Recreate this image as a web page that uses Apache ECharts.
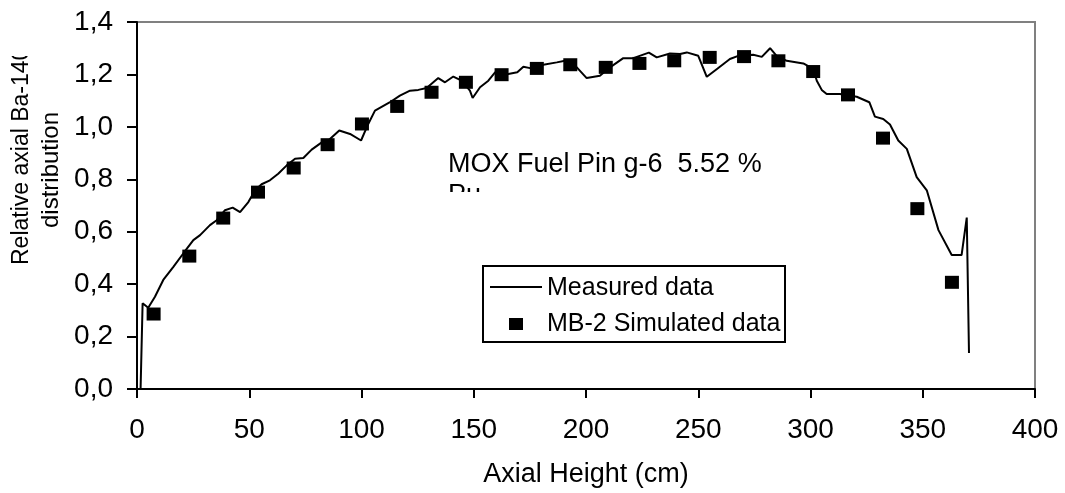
<!DOCTYPE html>
<html>
<head>
<meta charset="utf-8">
<script src="https://cdn.jsdelivr.net/npm/echarts@6/dist/echarts.min.js"></script>
<style>
html,body{margin:0;padding:0;background:#fff;}
#chart{width:1065px;height:493px;}
</style>
</head>
<body>
<div id="chart"></div>
<script>
// Measured data (axial height cm, relative Ba-140)
const measuredX = [
  1.6, 2.5, 5.0, 8.0, 11.7, 16.2, 20.6, 25.1, 28.1, 32.5,
  35.5, 39.2, 42.6, 45.9, 49.6, 52.6, 55.5, 59.2, 62.9, 66.7,
  70.4, 74.1, 77.8, 82.3, 85.2, 90.1, 94.9, 99.8, 103.0, 106.0,
  112.7, 117.1, 121.6, 125.3, 129.0, 134.2, 137.2, 140.9, 144.6, 148.3,
  149.5, 152.8, 156.5, 159.5, 165.4, 169.4, 172.1, 175.1, 181.0, 187.0,
  190.6, 195.9, 200.3, 206.2, 210.7, 216.6, 221.1, 228.0, 231.5, 237.4,
  241.9, 244.9, 250.0, 253.8, 258.2, 264.1, 267.8, 274.5, 278.3, 282.0,
  284.9, 289.4, 296.8, 301.2, 302.8, 305.0, 307.2, 313.1, 320.6, 326.2,
  328.7, 332.4, 335.4, 339.1, 342.9, 347.3, 351.8, 357.0, 362.9, 367.3,
  369.6, 370.6
];
const measuredY = [
  0.0, 0.327, 0.310, 0.352, 0.416, 0.466, 0.517, 0.568, 0.587, 0.625,
  0.644, 0.682, 0.692, 0.675, 0.713, 0.758, 0.781, 0.796, 0.821, 0.853,
  0.878, 0.881, 0.913, 0.941, 0.948, 0.986, 0.973, 0.948, 1.011, 1.062,
  1.094, 1.119, 1.138, 1.141, 1.148, 1.186, 1.170, 1.192, 1.176, 1.138,
  1.110, 1.151, 1.176, 1.208, 1.202, 1.208, 1.229, 1.224, 1.237, 1.246,
  1.252, 1.227, 1.186, 1.195, 1.227, 1.262, 1.262, 1.283, 1.265, 1.280,
  1.278, 1.284, 1.271, 1.191, 1.220, 1.259, 1.271, 1.275, 1.267, 1.300,
  1.271, 1.252, 1.242, 1.221, 1.176, 1.141, 1.125, 1.125, 1.115, 1.094,
  1.039, 1.030, 1.009, 0.948, 0.916, 0.808, 0.758, 0.606, 0.511, 0.511,
  0.654, 0.137
];
// MB-2 simulated data
const simX = [7.4, 23.3, 38.4, 53.9, 69.8, 84.9, 100.2, 115.9, 131.2, 146.5, 162.4, 178.1,
              193.0, 208.8, 223.8, 239.3, 255.1, 270.4, 285.7, 301.2, 316.7, 332.3, 347.6, 363.0];
const simY = [0.286, 0.507, 0.652, 0.751, 0.843, 0.932, 1.011, 1.078, 1.132, 1.170, 1.199, 1.223,
              1.237, 1.227, 1.242, 1.252, 1.265, 1.268, 1.252, 1.211, 1.122, 0.957, 0.688, 0.407];
// Tick labels
const yTickValues = [0, 0.2, 0.4, 0.6, 0.8, 1.0, 1.2, 1.4];
const yTickLabels = ['0,0', '0,2', '0,4', '0,6', '0,8', '1,0', '1,2', '1,4'];
const xTickLabels = ['0', '50', '100', '150', '200', '250', '300', '350', '400'];

const seriesNames = ['Measured data', 'MB-2 Simulated data'];
const xAxisName = 'Axial Height (cm)';
const yAxisNameLines = ['Relative axial Ba-140', 'distribution'];
const annotationLines = ['MOX Fuel Pin g-6  5.52 %', 'Pu'];

const FONT = 'Liberation Sans, Arial, sans-serif';

const chart = echarts.init(document.getElementById('chart'), null, {renderer: 'canvas'});

const measured = measuredX.map((x, i) => [x, measuredY[i]]);
const simulated = simX.map((x, i) => [x, simY[i]]);

const option = {
  backgroundColor: '#ffffff',
  animation: false,
  grid: {
    left: 137, right: 30, top: 22, bottom: 104,
    show: true, borderColor: '#808080', borderWidth: 2, backgroundColor: 'transparent'
  },
  xAxis: {
    type: 'value', min: 0, max: 400, interval: 50,
    name: xAxisName, nameLocation: 'middle', nameGap: 72,
    nameTextStyle: {fontFamily: FONT, fontSize: 27, color: '#000'},
    axisLine: {show: true, onZero: false, lineStyle: {color: '#000', width: 2}},
    axisTick: {show: true, inside: false, length: 9, lineStyle: {color: '#000', width: 2}},
    axisLabel: {
      margin: 27, fontFamily: FONT, fontSize: 28, color: '#000',
      formatter: function (v) { const i = Math.round(v / 50); return xTickLabels[i] !== undefined ? xTickLabels[i] : ''; }
    },
    splitLine: {show: false}
  },
  yAxis: {
    type: 'value', min: 0, max: 1.4, interval: 0.2,
    axisLine: {show: true, onZero: false, lineStyle: {color: '#000', width: 2}},
    axisTick: {show: true, inside: false, length: 10, lineStyle: {color: '#000', width: 2}},
    axisLabel: {
      margin: 24, fontFamily: FONT, fontSize: 28, color: '#000',
      formatter: function (v) {
        const i = yTickValues.findIndex(t => Math.abs(t - v) < 1e-6);
        return i >= 0 ? yTickLabels[i] : '';
      }
    },
    splitLine: {show: false}
  },
  series: [
    {
      name: seriesNames[0], type: 'line', data: measured,
      symbol: 'none', smooth: false, clip: false,
      lineStyle: {color: '#000', width: 2}, z: 2
    },
    {
      name: seriesNames[1], type: 'scatter', data: simulated,
      symbol: 'rect', symbolSize: [14, 13],
      itemStyle: {color: '#000', borderColor: '#000', borderWidth: 0, opacity: 1}, z: 3
    }
  ],
  graphic: [
    // y-axis title (two rotated lines)
    {type: 'text', x: 21.5, y: 265, rotation: Math.PI / 2, z: 10,
     style: {text: yAxisNameLines[0], font: '23px ' + FONT, fill: '#000', align: 'left', verticalAlign: 'middle'}},
    {type: 'text', x: 51, y: 170, rotation: Math.PI / 2, z: 10,
     style: {text: yAxisNameLines[1], font: '24px ' + FONT, fill: '#000', align: 'center', verticalAlign: 'middle'}},
    // clipping of the y title box
    {type: 'rect', shape: {x: 0, y: 0, width: 40, height: 56}, style: {fill: '#fff'}, z: 11},
    // annotation text
    {type: 'text', x: 448, y: 165, z: 10,
     style: {text: annotationLines[0], font: '27px ' + FONT, fill: '#000', align: 'left', verticalAlign: 'middle'}},
    {type: 'text', x: 448, y: 196, z: 10,
     style: {text: annotationLines[1], font: '27px ' + FONT, fill: '#000', align: 'left', verticalAlign: 'middle'}},
    {type: 'rect', shape: {x: 440, y: 192, width: 70, height: 24}, style: {fill: '#fff'}, z: 11},
    // legend box
    {type: 'rect', shape: {x: 483, y: 266, width: 302, height: 76}, style: {fill: '#fff', stroke: '#000', lineWidth: 2}, z: 12},
    {type: 'line', shape: {x1: 490, y1: 287, x2: 542, y2: 287}, style: {stroke: '#000', lineWidth: 2}, z: 13},
    {type: 'text', x: 547, y: 288, z: 13,
     style: {text: seriesNames[0], font: '25px ' + FONT, fill: '#000', align: 'left', verticalAlign: 'middle'}},
    {type: 'rect', shape: {x: 509, y: 318, width: 14, height: 12}, style: {fill: '#000'}, z: 13},
    {type: 'text', x: 547, y: 324, z: 13,
     style: {text: seriesNames[1], font: '25px ' + FONT, fill: '#000', align: 'left', verticalAlign: 'middle'}}
  ]
};
chart.setOption(option);
</script>
</body>
</html>
